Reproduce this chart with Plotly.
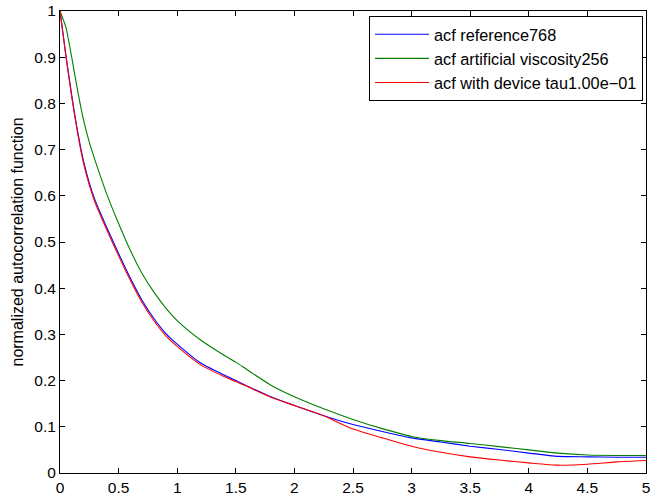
import plotly.graph_objects as go

# lag values (x) and autocorrelation values
t_ref = [0, 0.05, 0.1, 0.15, 0.2, 0.25, 0.3, 0.4, 0.5, 0.6, 0.7, 0.8, 0.9, 1.0, 1.2, 1.4, 1.5, 1.6, 1.8,
         2.0, 2.25, 2.5, 2.75, 3.0, 3.25, 3.5, 3.75, 4.0, 4.25, 4.5, 4.75, 5.0]
acf_reference = [1.0, 0.905, 0.818, 0.740, 0.676, 0.628, 0.590, 0.531, 0.475, 0.422, 0.374, 0.335, 0.303,
                 0.279, 0.238, 0.212, 0.200, 0.188, 0.165, 0.146, 0.124, 0.105, 0.090, 0.076, 0.067,
                 0.058, 0.051, 0.043, 0.036, 0.035, 0.034, 0.034]
acf_device = [1.0, 0.903, 0.814, 0.736, 0.671, 0.623, 0.585, 0.526, 0.470, 0.417, 0.369, 0.330, 0.298,
              0.274, 0.234, 0.209, 0.198, 0.187, 0.164, 0.146, 0.124, 0.095, 0.076, 0.058, 0.045,
              0.035, 0.028, 0.022, 0.017, 0.019, 0.024, 0.027]
acf_viscosity = [1.0, 0.965, 0.900, 0.828, 0.765, 0.716, 0.676, 0.603, 0.540, 0.482, 0.432, 0.392, 0.358,
                 0.330, 0.288, 0.255, 0.240, 0.223, 0.190, 0.165, 0.139, 0.116, 0.096, 0.079, 0.070,
                 0.064, 0.057, 0.050, 0.043, 0.039, 0.038, 0.038]

x_ticks = [0, 0.5, 1, 1.5, 2, 2.5, 3, 3.5, 4, 4.5, 5]
x_tick_labels = ["0", "0.5", "1", "1.5", "2", "2.5", "3", "3.5", "4", "4.5", "5"]
y_ticks = [0, 0.1, 0.2, 0.3, 0.4, 0.5, 0.6, 0.7, 0.8, 0.9, 1]
y_tick_labels = ["0", "0.1", "0.2", "0.3", "0.4", "0.5", "0.6", "0.7", "0.8", "0.9", "1"]

series = [
    ("acf reference768", acf_reference, "#0000FF"),
    ("acf artificial viscosity256", acf_viscosity, "#008000"),
    ("acf with device tau1.00e\u221201", acf_device, "#FF0000"),
]

FONT = "Liberation Sans, Arial, Helvetica, sans-serif"

fig = go.Figure()
for name, vals, col in series:
    fig.add_trace(go.Scatter(x=t_ref, y=vals, mode="lines", name=name,
                             line=dict(color=col, width=1.1, shape="spline", smoothing=0.6)))

axis_common = dict(showline=True, linecolor="black", linewidth=1, mirror="ticks",
                   ticks="inside", ticklen=5, tickcolor="black", tickwidth=1,
                   showgrid=False, zeroline=False,
                   tickfont=dict(family=FONT, size=15.5, color="black"))

fig.update_xaxes(range=[0, 5], tickvals=x_ticks, ticktext=x_tick_labels, **axis_common)
fig.update_yaxes(range=[0, 1], tickvals=y_ticks, ticktext=y_tick_labels,
                 title=dict(text="normalized autocorrelation function",
                            font=dict(family=FONT, size=16, color="black"), standoff=6),
                 **axis_common)

fig.update_layout(
    width=651, height=496,
    margin=dict(l=60, r=5, t=11, b=23, autoexpand=False),
    paper_bgcolor="white", plot_bgcolor="white",
    showlegend=True,
    legend=dict(x=0.9949, y=0.989, xanchor="right", yanchor="top",
                bgcolor="white", bordercolor="black", borderwidth=1,
                font=dict(family=FONT, size=16.3, color="black"),
                itemwidth=54, tracegroupgap=0),
)

fig.write_html("out.html")
